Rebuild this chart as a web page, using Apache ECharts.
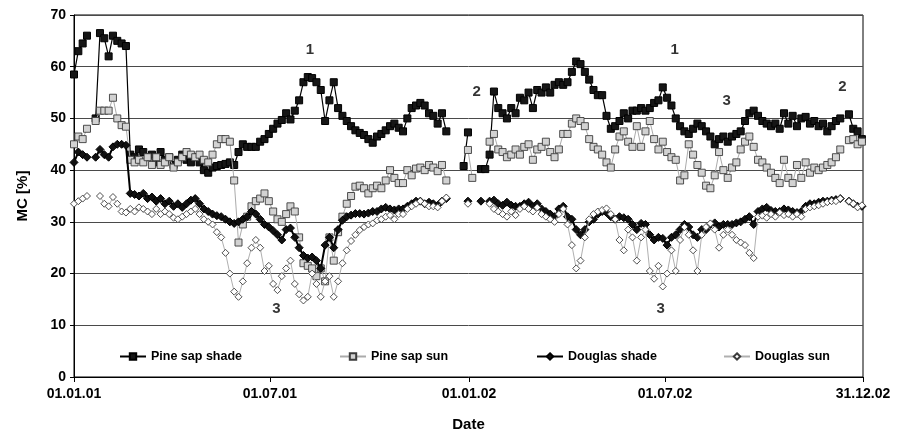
<!DOCTYPE html>
<html>
<head>
<meta charset="utf-8">
<script src="https://cdn.jsdelivr.net/npm/echarts@6/dist/echarts.min.js"></script>
<style>
html,body{margin:0;padding:0;background:#fff;}
#chart{width:903px;height:440px;}
</style>
</head>
<body>
<div id="chart"></div>
<script>
// Sampling grid: one reading every 4 days starting 01.01.2001
const startYear = 2001;
const stepDays = 4;

const seriesNames = ['Pine sap shade', 'Pine sap sun', 'Douglas shade', 'Douglas sun'];

const pineShade = [
58.5,63,64.5,66,null,50,66.5,65.5,62,66,65,64.5,64,43,42.5,44,43.5,42.5,43,41.5,43.5,42,42.5,41,42,43,42,41.5,42.5,41.5,40,39.5,40.5,40.8,41,41.2,41.5,41,
43.5,45,44.5,44.5,44.5,45.5,46,47,48,49,49.7,51,49.8,51.5,53.5,57,58,57.8,57,55.5,49.5,53.5,57,52,50.5,49.5,48.5,47.7,47.2,46.8,46,45.3,46.5,47,47.7,48.5,49,48.2,
47.5,50,52,52.5,53,52.5,51,50.5,49,51,47.5,null,null,null,40.8,47.3,null,null,40.2,40.2,43,55.2,52,51,50,52,51,54,53.5,55,52,55.5,55,56,55,56.5,57,56.5,
57,59,61,60.5,59,57.5,55.5,54.5,54.5,50.5,48,48.5,49.5,51,50,51.5,51.5,52,51.5,52,53,53.5,56,54,52.5,50,48.5,47.5,47,48,49,48.5,47.5,46.5,45,46,46.5,45.5,
46.5,47,47.5,49.5,51,51.5,50.5,49.5,49,48.5,49,48,51,49,50.5,48.5,50,50.3,49,49.5,48.5,49,47.5,48.5,49.5,50,null,50.8,48,47.5,46
];

const pineSun = [
45,46.5,46,48,null,49.5,51.5,51.5,51.5,54,50,48.7,48.4,42,41.5,42,41.5,42.5,41,42.5,41,41.5,42.5,40.5,41.5,42.5,43.5,43,42.5,43,42,41.5,43,45,46,46,45.5,38,
26,29.5,31,33,34,34.5,35.5,34,32,30.5,30,31.5,33,32,27,22,21.5,21,19.5,21,18.5,27,22.5,28,31,33.5,35,36.8,37,36.5,35.5,36.5,37,36.5,38,40,38.5,37.5,
37.5,40,39,40.3,40.5,40,41,40.5,39.8,41,38,null,null,null,null,43.9,38.5,null,null,null,45.5,47,44,43.5,42.5,43,44,43,44.5,45,42,44,44.5,45.5,43.5,42.5,44,47,
47,49,50,49.5,48.5,46,44.5,44,43,41.5,40.5,44,46.5,47.5,45.5,44.5,48.5,44.5,47.5,49.5,46,44,45.5,43.5,42.5,42,38,39,45,43,41,39.5,37,36.5,39,43.5,40,38.5,
40.5,41.5,44,45.5,46.5,44.5,42,41.5,40.5,39.5,38.5,37.5,42,38.5,37.5,41,38.5,41.5,39.5,40.5,40,40.5,41,41.5,42.5,44,null,45.8,46,45,45.5
];

const douglasShade = [
41.5,43.5,43,42.5,null,42.5,44,43,42.5,44.5,45,45,44.8,35.5,35.3,35,35.5,34.5,34.8,34,34.5,33.5,34,33,33.5,32.8,33.5,34.2,34.5,33.5,32.5,32,31.5,31.2,31,30.5,30,29.7,
30,30.5,31,32,31.5,30.5,29.5,29,28.3,27.5,26.5,28.5,28.8,27,25,23.5,23,23.2,22.5,21,25.5,27,25,28.5,30.3,31,31.3,31.6,31.6,31.5,31.7,32,32,32.5,32.8,32.5,32.3,32.5,
32.5,33,33.5,34,34,33.5,33.8,33.5,33.2,34,34.5,null,null,null,null,34,null,null,34,null,34,34.2,33.5,33.2,33.8,33.2,33,33,33.5,33.8,33,33.5,32.5,32,31.5,31,32.5,33,
31,30.5,28.5,27.5,28.5,30,30.5,31.5,32,31.8,31,30.5,31,30.8,30.5,29.5,28.5,29.7,29.5,27.5,26.5,27,26.8,25.5,27,27.5,28.5,29.5,29,27.5,27,28.5,28.5,29.5,29.8,29,29.5,29.5,
29.5,29.8,30,30.5,31,29.5,32,32.5,32.8,32.2,32,32,32.5,32.3,32,31.8,32,33,33.5,33.5,33.8,34,34,34.2,34.3,34.5,null,34,33.5,33,33
];

const douglasSun = [
33.5,34,34.5,35,null,null,35,33.5,33,34.8,33.5,32,31.8,32.5,32,32.8,32.5,32,31.5,32.5,31.5,32,31.5,30.8,30.5,31,31.5,32,32.5,31.5,30.5,30,29.5,28,27,24,20,16.5,
15.5,18.5,22,25,26.5,25,20.5,21.5,18,16.8,19.5,21,22.5,18,16,14.8,15.5,20,18,15.5,18.5,19.5,15.5,18.5,22,24.5,26.3,27.5,28.4,29,29.5,29.7,30.3,30.5,31,31.3,30.5,31.5,
31.5,32.5,33,33.5,34,33.5,33,33,32.8,34,34.7,null,null,null,null,33.5,null,null,null,null,33.5,32.5,32,31.5,31,32,31.3,32.5,33,32.5,32,32.8,31.5,31,30.5,30,31.5,32.5,
29.5,25.5,21,22.5,27,30.5,31.5,32,32.3,32.6,31.5,30.5,26.5,24.5,28.5,27,22.5,27,28.5,20.5,19,21.5,17.5,20,24.5,20.5,26.5,29,27.5,24.5,20.5,27.5,29,29.7,28.5,25,27.5,28.5,
27.5,26.5,26,25.5,24,23,31,31.2,30.8,31.5,31,31.8,31.3,31.5,31,31.5,31,32.5,32.8,33,33.2,33.5,33.8,34,34,34.5,null,34,33.5,32.8,33.2
];

// axis tick labels (dd.mm.yy) and their dates
const tickLabels = ['01.01.01', '01.07.01', '01.01.02', '01.07.02', '31.12.02'];
const tickDates = [[2001,0,1],[2001,6,1],[2002,0,1],[2002,6,1],[2002,11,31]];

// text annotations on the plot: [year, month(0-based), day, value, text]
const notes = [
  [2001,7,7,63.3,'1'],
  [2002,6,10,63.3,'1'],
  [2002,0,8,55.2,'2'],
  [2002,11,12,56.2,'2'],
  [2002,7,27,53.4,'3'],
  [2001,6,7,13.1,'3'],
  [2002,5,27,13.1,'3']
];

// day number since 01.01.2001 (x axis unit)
const DAY = 86400000;
const T0 = Date.UTC(startYear, 0, 1);
const dayOf = (y, m, d) => Math.round((Date.UTC(y, m, d) - T0) / DAY);
const toPairs = arr => arr.map((v, i) => [stepDays * i, v]);

const tickDays = tickDates.map(d => dayOf(d[0], d[1], d[2]));
const labelMap = {};
tickDays.forEach((t, k) => { labelMap[t] = tickLabels[k]; });

const FONT = 'Liberation Sans, Arial, Helvetica, sans-serif';

const styles = [
  {symbol:'rect', size:7, line:{color:'#000', width:1.2}, item:{color:'#161616', borderColor:'#000', borderWidth:1}},
  {symbol:'rect', size:7, line:{color:'#ababab', width:1}, item:{color:'#d2d2d2', borderColor:'#3c3c3c', borderWidth:0.9}},
  {symbol:'diamond', size:8, line:{color:'#000', width:2}, item:{color:'#111', borderColor:'#000', borderWidth:1}},
  {symbol:'diamond', size:7, line:{color:'#b0b0b0', width:1}, item:{color:'#ffffff', borderColor:'#3c3c3c', borderWidth:0.9}}
];
const values = [pineShade, pineSun, douglasShade, douglasSun];

const series = values.map((arr, k) => ({
  name: seriesNames[k],
  type: 'line',
  data: toPairs(arr),
  symbol: styles[k].symbol,
  symbolSize: styles[k].size,
  showAllSymbol: true,
  connectNulls: false,
  lineStyle: styles[k].line,
  itemStyle: styles[k].item,
  emphasis: {disabled: true},
  z: 2 + k,
  animation: false
}));

series.push({
  name: 'notes',
  type: 'scatter',
  data: notes.map(n => [dayOf(n[0], n[1], n[2]), n[3], n[4]]),
  symbolSize: 1,
  itemStyle: {color: 'rgba(0,0,0,0)'},
  label: {
    show: true, position: 'inside',
    formatter: p => p.data[2],
    color: '#000', fontSize: 15, fontWeight: 'bold', fontFamily: FONT
  },
  z: 10,
  animation: false,
  silent: true
});

const legendLefts = [114, 334, 531, 718];
const legends = seriesNames.map((n, k) => ({
  data: [n],
  left: legendLefts[k],
  top: 345,
  itemWidth: 26,
  itemHeight: 8,
  itemGap: 8,
  selectedMode: false,
  textStyle: {fontFamily: FONT, fontSize: 12.5, fontWeight: 'bold', color: '#000'}
}));

const chart = echarts.init(document.getElementById('chart'), null, {renderer: 'canvas'});
chart.setOption({
  backgroundColor: '#fff',
  animation: false,
  grid: {left: 74, right: 40, top: 15, bottom: 63, show: true, borderColor: '#000', borderWidth: 1, backgroundColor: 'rgba(0,0,0,0)'},
  legend: legends,
  xAxis: {
    type: 'value',
    min: tickDays[0],
    max: tickDays[tickDays.length - 1],
    name: 'Date',
    nameLocation: 'middle',
    nameGap: 40,
    nameTextStyle: {fontFamily: FONT, fontSize: 15, fontWeight: 'bold', color: '#000'},
    axisLine: {show: true, lineStyle: {color: '#000', width: 1}},
    axisTick: {show: true, length: 5, customValues: tickDays, lineStyle: {color: '#000'}},
    axisLabel: {
      show: true, customValues: tickDays, margin: 10,
      formatter: v => labelMap[Math.round(v)] || '',
      fontFamily: FONT, fontSize: 14, fontWeight: 'bold', color: '#000'
    },
    splitLine: {show: false}
  },
  yAxis: {
    type: 'value',
    min: 0, max: 70, interval: 10,
    name: 'MC [%]',
    nameLocation: 'middle',
    nameGap: 44,
    nameRotate: 90,
    nameTextStyle: {fontFamily: FONT, fontSize: 15, fontWeight: 'bold', color: '#000'},
    axisLine: {show: true, lineStyle: {color: '#000', width: 1}},
    axisTick: {show: true, length: 4, lineStyle: {color: '#000'}},
    axisLabel: {fontFamily: FONT, fontSize: 14, fontWeight: 'bold', color: '#000', margin: 8},
    splitLine: {show: true, lineStyle: {color: '#4a4a4a', width: 1}}
  },
  series: series
});
</script>
</body>
</html>
